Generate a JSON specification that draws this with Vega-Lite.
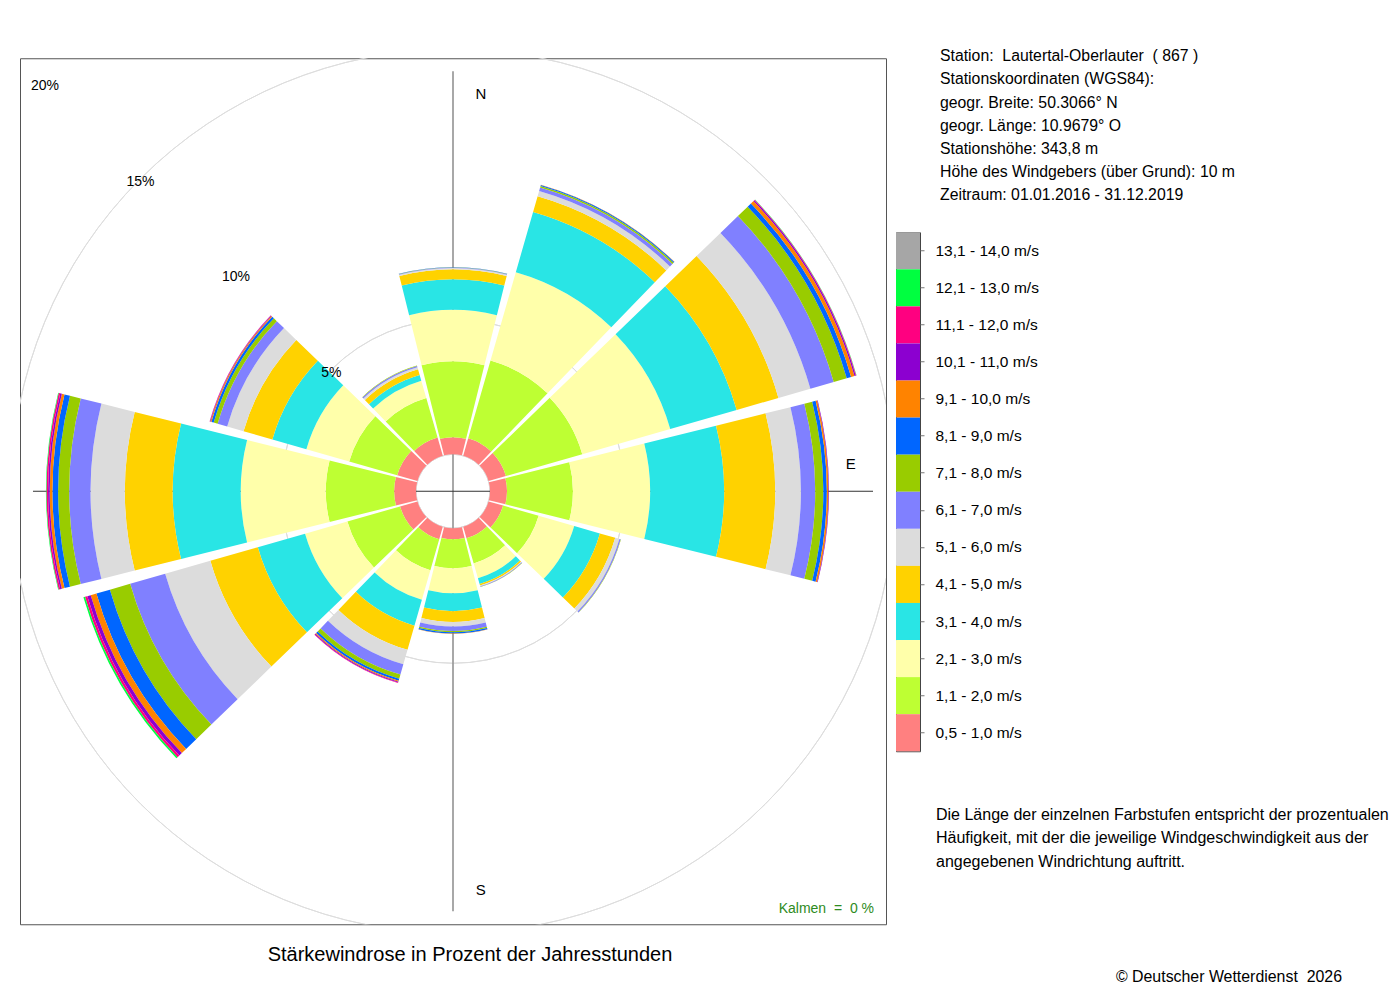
{
  "$schema": "https://vega.github.io/schema/vega-lite/v6.json",
  "background": "white",
  "autosize": {"type": "pad"},
  "padding": {"left": 19, "top": 48.25, "right": 0, "bottom": 0},
  "datasets": {
    "rose": [
      {"dir": 0, "k": 1, "pct": 0.63}, {"dir": 0, "k": 2, "pct": 2.81}, {"dir": 0, "k": 3, "pct": 1.91}, {"dir": 0, "k": 4, "pct": 1.13},
      {"dir": 0, "k": 5, "pct": 0.37}, {"dir": 0, "k": 6, "pct": 0.04}, {"dir": 0, "k": 7, "pct": 0.02}, {"dir": 0, "k": 8, "pct": 0.01},
      {"dir": 0, "k": 9, "pct": 0.01},
      {"dir": 30, "k": 1, "pct": 0.67}, {"dir": 30, "k": 2, "pct": 3.0}, {"dir": 30, "k": 3, "pct": 3.4}, {"dir": 30, "k": 4, "pct": 2.32},
      {"dir": 30, "k": 5, "pct": 0.61}, {"dir": 30, "k": 6, "pct": 0.2}, {"dir": 30, "k": 7, "pct": 0.13}, {"dir": 30, "k": 8, "pct": 0.06},
      {"dir": 30, "k": 9, "pct": 0.04}, {"dir": 30, "k": 10, "pct": 0.01},
      {"dir": 60, "k": 1, "pct": 0.67}, {"dir": 60, "k": 2, "pct": 2.94}, {"dir": 60, "k": 3, "pct": 3.39}, {"dir": 60, "k": 4, "pct": 2.56},
      {"dir": 60, "k": 5, "pct": 1.61}, {"dir": 60, "k": 6, "pct": 1.23}, {"dir": 60, "k": 7, "pct": 0.9}, {"dir": 60, "k": 8, "pct": 0.5},
      {"dir": 60, "k": 9, "pct": 0.17}, {"dir": 60, "k": 10, "pct": 0.13}, {"dir": 60, "k": 11, "pct": 0.05}, {"dir": 60, "k": 12, "pct": 0.02},
      {"dir": 60, "k": 13, "pct": 0.01},
      {"dir": 90, "k": 1, "pct": 0.63}, {"dir": 90, "k": 2, "pct": 2.44}, {"dir": 90, "k": 3, "pct": 2.86}, {"dir": 90, "k": 4, "pct": 2.74},
      {"dir": 90, "k": 5, "pct": 1.89}, {"dir": 90, "k": 6, "pct": 0.95}, {"dir": 90, "k": 7, "pct": 0.53}, {"dir": 90, "k": 8, "pct": 0.3},
      {"dir": 90, "k": 9, "pct": 0.13}, {"dir": 90, "k": 10, "pct": 0.06}, {"dir": 90, "k": 11, "pct": 0.02},
      {"dir": 120, "k": 1, "pct": 0.56}, {"dir": 120, "k": 2, "pct": 1.37}, {"dir": 120, "k": 3, "pct": 1.37}, {"dir": 120, "k": 4, "pct": 0.99},
      {"dir": 120, "k": 5, "pct": 0.59}, {"dir": 120, "k": 6, "pct": 0.16}, {"dir": 120, "k": 7, "pct": 0.05}, {"dir": 120, "k": 8, "pct": 0.01},
      {"dir": 150, "k": 1, "pct": 0.44}, {"dir": 150, "k": 2, "pct": 0.97}, {"dir": 150, "k": 3, "pct": 0.57}, {"dir": 150, "k": 4, "pct": 0.22},
      {"dir": 150, "k": 5, "pct": 0.06}, {"dir": 150, "k": 6, "pct": 0.03}, {"dir": 150, "k": 7, "pct": 0.02}, {"dir": 150, "k": 8, "pct": 0.01},
      {"dir": 180, "k": 1, "pct": 0.41}, {"dir": 180, "k": 2, "pct": 1.07}, {"dir": 180, "k": 3, "pct": 0.93}, {"dir": 180, "k": 4, "pct": 0.66},
      {"dir": 180, "k": 5, "pct": 0.4}, {"dir": 180, "k": 6, "pct": 0.17}, {"dir": 180, "k": 7, "pct": 0.16}, {"dir": 180, "k": 8, "pct": 0.05},
      {"dir": 180, "k": 9, "pct": 0.05}, {"dir": 180, "k": 10, "pct": 0.01},
      {"dir": 210, "k": 1, "pct": 0.48}, {"dir": 210, "k": 2, "pct": 1.19}, {"dir": 210, "k": 3, "pct": 1.14}, {"dir": 210, "k": 4, "pct": 1.0},
      {"dir": 210, "k": 5, "pct": 0.93}, {"dir": 210, "k": 6, "pct": 0.56}, {"dir": 210, "k": 7, "pct": 0.39}, {"dir": 210, "k": 8, "pct": 0.16},
      {"dir": 210, "k": 9, "pct": 0.08}, {"dir": 210, "k": 10, "pct": 0.04}, {"dir": 210, "k": 11, "pct": 0.03}, {"dir": 210, "k": 12, "pct": 0.02},
      {"dir": 240, "k": 1, "pct": 0.67}, {"dir": 240, "k": 2, "pct": 2.03}, {"dir": 240, "k": 3, "pct": 1.63}, {"dir": 240, "k": 4, "pct": 1.82},
      {"dir": 240, "k": 5, "pct": 1.83}, {"dir": 240, "k": 6, "pct": 1.74}, {"dir": 240, "k": 7, "pct": 1.35}, {"dir": 240, "k": 8, "pct": 0.78},
      {"dir": 240, "k": 9, "pct": 0.52}, {"dir": 240, "k": 10, "pct": 0.22}, {"dir": 240, "k": 11, "pct": 0.13}, {"dir": 240, "k": 12, "pct": 0.09},
      {"dir": 240, "k": 13, "pct": 0.06},
      {"dir": 270, "k": 1, "pct": 0.81}, {"dir": 270, "k": 2, "pct": 2.53}, {"dir": 270, "k": 3, "pct": 3.15}, {"dir": 270, "k": 4, "pct": 2.52},
      {"dir": 270, "k": 5, "pct": 1.77}, {"dir": 270, "k": 6, "pct": 1.27}, {"dir": 270, "k": 7, "pct": 0.79}, {"dir": 270, "k": 8, "pct": 0.41},
      {"dir": 270, "k": 9, "pct": 0.21}, {"dir": 270, "k": 10, "pct": 0.1}, {"dir": 270, "k": 11, "pct": 0.06}, {"dir": 270, "k": 12, "pct": 0.06},
      {"dir": 270, "k": 13, "pct": 0.02},
      {"dir": 300, "k": 1, "pct": 0.78}, {"dir": 300, "k": 2, "pct": 1.85}, {"dir": 300, "k": 3, "pct": 1.65}, {"dir": 300, "k": 4, "pct": 1.31},
      {"dir": 300, "k": 5, "pct": 1.11}, {"dir": 300, "k": 6, "pct": 0.63}, {"dir": 300, "k": 7, "pct": 0.37}, {"dir": 300, "k": 8, "pct": 0.15},
      {"dir": 300, "k": 9, "pct": 0.09}, {"dir": 300, "k": 10, "pct": 0.04}, {"dir": 300, "k": 11, "pct": 0.02}, {"dir": 300, "k": 12, "pct": 0.01},
      {"dir": 330, "k": 1, "pct": 0.7}, {"dir": 330, "k": 2, "pct": 1.52}, {"dir": 330, "k": 3, "pct": 0.67}, {"dir": 330, "k": 4, "pct": 0.22},
      {"dir": 330, "k": 5, "pct": 0.22}, {"dir": 330, "k": 6, "pct": 0.08}, {"dir": 330, "k": 7, "pct": 0.05}, {"dir": 330, "k": 8, "pct": 0.01}
    ],
    "classes": [
      {"k": 14, "label": "13,1 - 14,0 m/s"}, {"k": 13, "label": "12,1 - 13,0 m/s"}, {"k": 12, "label": "11,1 - 12,0 m/s"},
      {"k": 11, "label": "10,1 - 11,0 m/s"}, {"k": 10, "label": "9,1 - 10,0 m/s"}, {"k": 9, "label": "8,1 - 9,0 m/s"},
      {"k": 8, "label": "7,1 - 8,0 m/s"}, {"k": 7, "label": "6,1 - 7,0 m/s"}, {"k": 6, "label": "5,1 - 6,0 m/s"},
      {"k": 5, "label": "4,1 - 5,0 m/s"}, {"k": 4, "label": "3,1 - 4,0 m/s"}, {"k": 3, "label": "2,1 - 3,0 m/s"},
      {"k": 2, "label": "1,1 - 2,0 m/s"}, {"k": 1, "label": "0,5 - 1,0 m/s"}
    ]
  },
  "hconcat": [
    {
      "width": 866,
      "height": 866,
      "view": {"stroke": "#555555", "strokeWidth": 1},
      "title": {
        "text": "Stärkewindrose in Prozent der Jahresstunden",
        "orient": "bottom", "anchor": "middle", "dx": 17, "offset": 21,
        "fontSize": 20, "fontWeight": "normal", "font": "Liberation Sans", "color": "#000000"
      },
      "layer": [
        {
          "data": {"values": [{"p": 0}, {"p": 5}, {"p": 10}, {"p": 15}, {"p": 20}]},
          "mark": {"type": "arc", "filled": false, "stroke": "#dddddd", "strokeWidth": 1, "theta": 0, "theta2": 6.2832, "clip": true},
          "encoding": {
            "radius": {"field": "p", "type": "quantitative", "scale": {"type": "linear", "domain": [0, 20], "range": [37, 577], "zero": false}}
          }
        },
        {
          "data": {"values": [{"z": 0}]},
          "mark": {"type": "rule", "color": "#999999", "strokeWidth": 1.7},
          "encoding": {
            "x": {"datum": 0, "type": "quantitative", "scale": {"domain": [-1, 1]}, "axis": null},
            "y": {"datum": -0.97, "type": "quantitative", "scale": {"domain": [-1, 1]}, "axis": null},
            "y2": {"datum": 0.97}
          }
        },
        {
          "data": {"values": [{"z": 0}]},
          "mark": {"type": "rule", "color": "#333333", "strokeWidth": 1},
          "encoding": {
            "y": {"datum": 0, "type": "quantitative"},
            "x": {"datum": -0.97, "type": "quantitative"},
            "x2": {"datum": 0.97}
          }
        },
        {
          "data": {"name": "rose"},
          "transform": [
            {"stack": "pct", "groupby": ["dir"], "sort": [{"field": "k", "order": "ascending"}], "as": ["start", "end"]}
          ],
          "mark": {"type": "arc", "thetaOffset": -0.2443, "theta2Offset": 0.2443, "clip": true},
          "encoding": {
            "theta": {"field": "dir", "type": "quantitative", "stack": null, "scale": {"domain": [0, 360], "range": [0, 6.283185307179586]}},
            "theta2": {"field": "dir"},
            "radius": {"field": "end", "type": "quantitative"},
            "radius2": {"field": "start"},
            "color": {
              "field": "k", "type": "nominal", "legend": null,
              "scale": {
                "domain": [1, 2, 3, 4, 5, 6, 7, 8, 9, 10, 11, 12, 13, 14],
                "range": ["#FF8080", "#BEFF33", "#FFFFAA", "#29E5E5", "#FFD200", "#DCDCDC", "#8080FF", "#99CC00", "#0066FF", "#FF8300", "#8C00D0", "#FF0080", "#00FF40", "#A6A6A6"]
              }
            }
          }
        },
        {
          "data": {"values": [{"p": 5, "t": "5%"}, {"p": 10, "t": "10%"}, {"p": 15, "t": "15%"}, {"p": 20, "t": "20%"}]},
          "mark": {"type": "text", "fontSize": 14, "font": "Liberation Sans", "color": "#000000", "dy": 3},
          "encoding": {
            "theta": {"datum": 315, "type": "quantitative"},
            "radius": {"field": "p", "type": "quantitative"},
            "text": {"field": "t"}
          }
        },
        {
          "data": {"values": [{"t": "N", "a": 4}, {"t": "E", "a": 86}, {"t": "S", "a": 176}]},
          "mark": {"type": "text", "fontSize": 15, "font": "Liberation Sans", "color": "#000000", "dy": 1},
          "encoding": {
            "theta": {"field": "a", "type": "quantitative", "stack": null},
            "radius": {"datum": 13.4, "type": "quantitative"},
            "text": {"field": "t"}
          }
        },
        {
          "data": {"values": [{"t": "Kalmen \u00a0= \u00a00 %"}]},
          "mark": {"type": "text", "align": "right", "baseline": "middle", "dx": -12, "dy": -15, "fontSize": 14, "font": "Liberation Sans", "color": "#2E8B22"},
          "encoding": {
            "x": {"datum": 1, "type": "quantitative"},
            "y": {"datum": -1, "type": "quantitative"},
            "text": {"field": "t"}
          }
        }
      ]
    },
    {
      "spacing": 35,
      "bounds": "flush",
      "vconcat": [
        {
          "width": 24,
          "height": 139,
          "data": {"values": [
            {"i": 0, "t": "Station:\u00a0 Lautertal-Oberlauter \u00a0( 867 )"},
            {"i": 1, "t": "Stationskoordinaten (WGS84):"},
            {"i": 2, "t": "geogr. Breite: 50.3066° N"},
            {"i": 3, "t": "geogr. Länge: 10.9679° O"},
            {"i": 4, "t": "Stationshöhe: 343,8 m"},
            {"i": 5, "t": "Höhe des Windgebers (über Grund): 10 m"},
            {"i": 6, "t": "Zeitraum: 01.01.2016 - 31.12.2019"}
          ]},
          "mark": {"type": "text", "align": "left", "baseline": "middle", "fontSize": 15.8, "font": "Liberation Sans", "color": "#000000", "dx": 44, "dy": -2},
          "encoding": {
            "x": {"value": 0},
            "y": {"field": "i", "type": "quantitative", "scale": {"domain": [0, 6], "reverse": true}, "axis": null},
            "text": {"field": "t"}
          }
        },
        {
          "width": 24,
          "height": 519,
          "view": {"stroke": "#444444", "strokeWidth": 1},
          "data": {"name": "classes"},
          "mark": {"type": "rect"},
          "encoding": {
            "y": {
              "field": "label", "type": "ordinal",
              "sort": {"field": "k", "op": "max", "order": "descending"},
              "scale": {"paddingInner": 0, "paddingOuter": 0},
              "axis": {
                "orient": "right", "title": null, "domain": false, "grid": false,
                "ticks": true, "tickSize": 4, "tickColor": "#777777",
                "labelPadding": 11, "labelFontSize": 15.5, "labelFont": "Liberation Sans", "labelColor": "#000000"
              }
            },
            "color": {
              "field": "k", "type": "nominal", "legend": null,
              "scale": {
                "domain": [1, 2, 3, 4, 5, 6, 7, 8, 9, 10, 11, 12, 13, 14],
                "range": ["#FF8080", "#BEFF33", "#FFFFAA", "#29E5E5", "#FFD200", "#DCDCDC", "#8080FF", "#99CC00", "#0066FF", "#FF8300", "#8C00D0", "#FF0080", "#00FF40", "#A6A6A6"]
              }
            }
          }
        },
        {
          "width": 446,
          "height": 162,
          "layer": [
            {
              "data": {"values": [
                {"i": 0, "t": "Die Länge der einzelnen Farbstufen entspricht der prozentualen"},
                {"i": 1, "t": "Häufigkeit, mit der die jeweilige Windgeschwindigkeit aus der"},
                {"i": 2, "t": "angegebenen Windrichtung auftritt."}
              ]},
              "mark": {"type": "text", "align": "left", "baseline": "middle", "fontSize": 16, "font": "Liberation Sans", "color": "#000000", "dx": 40, "dy": 29},
              "encoding": {
                "x": {"value": 0},
                "y": {"field": "i", "type": "quantitative", "scale": {"domain": [0, 7], "reverse": true}, "axis": null},
                "text": {"field": "t"}
              }
            },
            {
              "data": {"values": [{"i": 7, "t": "© Deutscher Wetterdienst \u00a02026"}]},
              "mark": {"type": "text", "align": "right", "baseline": "middle", "fontSize": 15.9, "font": "Liberation Sans", "color": "#000000", "dy": 29},
              "encoding": {
                "x": {"value": "width"},
                "y": {"field": "i", "type": "quantitative"},
                "text": {"field": "t"}
              }
            }
          ]
        }
      ],
      "resolve": {"scale": {"y": "independent", "x": "independent"}}
    }
  ],
  "spacing": 10,
  "bounds": "flush",
  "resolve": {"scale": {"y": "independent", "x": "independent"}},
  "config": {
    "view": {"stroke": null},
    "font": "Liberation Sans",
    "text": {"font": "Liberation Sans", "color": "#000000"}
  }
}
